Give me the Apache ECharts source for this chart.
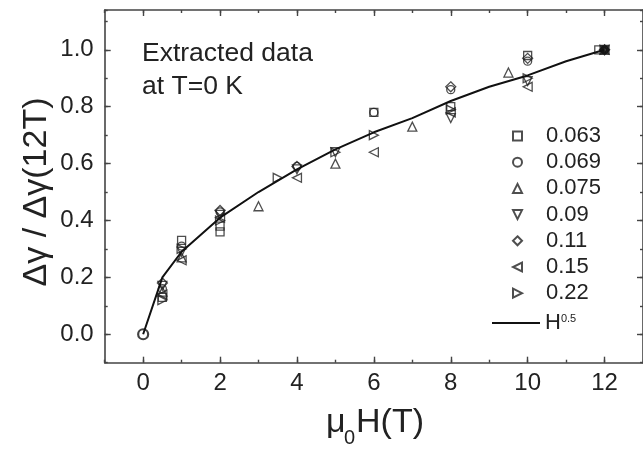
<!DOCTYPE html>
<html>
<head>
<meta charset="utf-8">
<script src="https://cdn.jsdelivr.net/npm/echarts@6/dist/echarts.min.js"></script>
<style>
  html, body { margin: 0; padding: 0; background: #fff; }
  #chart { width: 643px; height: 451px; }
</style>
</head>
<body>
<div id="chart"></div>
<script>
// Normalised field dependence of the extracted quantity, one set per doping level
const legendNames = ['0.063', '0.069', '0.075', '0.09', '0.11', '0.15', '0.22'];

const h063 = [0.5, 1, 2, 2, 6, 8, 10, 11.85];
const y063 = [0.13, 0.33, 0.38, 0.36, 0.78, 0.80, 0.98, 1.0];

const h069 = [0, 0.5, 1, 2, 4, 6, 8, 10, 12];
const y069 = [0, 0.16, 0.31, 0.43, 0.59, 0.78, 0.86, 0.96, 1.0];

const h075 = [0.5, 1, 3, 5, 7, 9.5, 12];
const y075 = [0.15, 0.27, 0.45, 0.60, 0.73, 0.92, 1.0];

const h09 = [0.5, 1, 2, 4, 5, 8, 10, 12];
const y09 = [0.17, 0.29, 0.42, 0.58, 0.64, 0.76, 0.89, 1.0];

const h011 = [0.5, 2, 4, 8, 10, 12];
const y011 = [0.18, 0.435, 0.59, 0.87, 0.97, 1.0];

const h015 = [0.5, 1, 2, 4, 6, 8, 10, 12];
const y015 = [0.14, 0.26, 0.41, 0.55, 0.64, 0.78, 0.87, 1.0];

const h022 = [0.5, 1, 2, 3.5, 5, 6, 8, 10, 12];
const y022 = [0.12, 0.30, 0.40, 0.55, 0.64, 0.70, 0.79, 0.90, 1.0];

// Square-root field dependence drawn as the reference curve
const fitName = 'H0.5';
const hFit = [0, 0.5, 1, 2, 3, 4, 5, 6, 7, 8, 9, 10, 11, 12];
const yFit = [0, 0.20, 0.29, 0.41, 0.50, 0.58, 0.65, 0.71, 0.76, 0.82, 0.87, 0.91, 0.96, 1.0];

const xMajor = [0, 2, 4, 6, 8, 10, 12];
const yMajor = [0, 0.2, 0.4, 0.6, 0.8, 1.0];

const ink = '#222';
const axisColor = '#444';
const fontFamily = '"Liberation Sans", Arial, Helvetica, sans-serif';

// the zero-field point is common to every set, so it is drawn with a heavier outline
const pair = (xs, ys) => xs.map((x, i) => (x === 0 && ys[i] === 0)
  ? { value: [x, ys[i]], symbolSize: 10, itemStyle: { borderWidth: 2.2, borderColor: '#111' } }
  : [x, ys[i]]);

// triangle outlines pointing down / left / right
const triDown = 'path://M0,0 L10,0 L5,10 Z';
const triLeft = 'path://M10,0 L10,10 L0,5 Z';
const triRight = 'path://M0,0 L0,10 L10,5 Z';

const markerDefs = [
  { h: h063, y: y063, symbol: 'rect', size: 8 },
  { h: h069, y: y069, symbol: 'circle', size: 8 },
  { h: h075, y: y075, symbol: 'triangle', size: 9 },
  { h: h09, y: y09, symbol: triDown, size: 9 },
  { h: h011, y: y011, symbol: 'diamond', size: 10 },
  { h: h015, y: y015, symbol: triLeft, size: 9 },
  { h: h022, y: y022, symbol: triRight, size: 9 }
];

const scatterSeries = markerDefs.map((d, i) => ({
  name: legendNames[i],
  type: 'scatter',
  xAxisIndex: 0,
  yAxisIndex: 0,
  symbol: d.symbol,
  symbolSize: d.size,
  itemStyle: { color: 'rgba(255,255,255,0)', borderColor: ink, borderWidth: 1.3 },
  data: pair(d.h, d.y),
  z: 3
}));

const fitSeries = {
  name: fitName,
  type: 'line',
  xAxisIndex: 0,
  yAxisIndex: 0,
  symbol: 'none',
  lineStyle: { color: '#111', width: 2 },
  itemStyle: { color: '#111' },
  data: hFit.map((x, i) => [x, yFit[i]]),
  z: 4
};

// solid end point of the curve at the normalisation field
const fitEnd = {
  name: 'end',
  type: 'scatter',
  xAxisIndex: 0,
  yAxisIndex: 0,
  symbol: 'circle',
  symbolSize: 9,
  itemStyle: { color: '#111' },
  data: [[hFit[hFit.length - 1], yFit[yFit.length - 1]]],
  z: 5
};

const axisLine = { show: true, onZero: false, lineStyle: { color: axisColor, width: 1.6 } };
const noLine = { show: false, onZero: false };
const minorTick = { show: true, inside: true, length: 3, lineStyle: { color: axisColor, width: 1.4 } };
const majorTick = (vals) => ({ show: true, inside: true, length: 6, customValues: vals, lineStyle: { color: axisColor, width: 1.4 } });

const xRange = { type: 'value', min: -1, max: 13, splitLine: { show: false } };
const yRange = { type: 'value', min: -0.1, max: 1.14, splitLine: { show: false } };

const chart = echarts.init(document.getElementById('chart'), null, { renderer: 'canvas' });

chart.setOption({
  animation: false,
  backgroundColor: '#fff',
  grid: { left: 104.7, right: -3.5, top: 10, bottom: 88.3, containLabel: false },
  xAxis: [
    Object.assign({}, xRange, { position: 'bottom', interval: 1, axisLine, axisTick: minorTick, axisLabel: { show: false } }),
    Object.assign({}, xRange, { position: 'bottom', axisLine: noLine, axisTick: majorTick(xMajor),
      axisLabel: { show: true, customValues: xMajor, margin: 9, fontSize: 24, color: ink, fontFamily } }),
    Object.assign({}, xRange, { position: 'top', interval: 1, axisLine, axisTick: minorTick, axisLabel: { show: false } }),
    Object.assign({}, xRange, { position: 'top', axisLine: noLine, axisTick: majorTick(xMajor), axisLabel: { show: false } })
  ],
  yAxis: [
    Object.assign({}, yRange, { position: 'left', interval: 0.1, axisLine, axisTick: minorTick, axisLabel: { show: false } }),
    Object.assign({}, yRange, { position: 'left', axisLine: noLine, axisTick: majorTick(yMajor),
      axisLabel: { show: true, customValues: yMajor, margin: 11, fontSize: 24, color: ink, fontFamily,
        formatter: (v) => v.toFixed(1) } }),
    Object.assign({}, yRange, { position: 'right', interval: 0.1, axisLine, axisTick: minorTick, axisLabel: { show: false } }),
    Object.assign({}, yRange, { position: 'right', axisLine: noLine, axisTick: majorTick(yMajor), axisLabel: { show: false } })
  ],
  legend: [
    {
      show: true,
      orient: 'vertical',
      left: 512,
      top: 125,
      padding: 0,
      itemWidth: 9,
      itemHeight: 9,
      itemGap: 4.2,
      data: legendNames,
      textStyle: {
        color: ink,
        fontFamily,
        fontSize: 22,
        lineHeight: 20,
        rich: { t: { fontSize: 22, color: ink, fontFamily, lineHeight: 20, padding: [0, 0, 0, 19] } }
      },
      formatter: (name) => '{t|' + name + '}'
    },
    {
      show: true,
      orient: 'vertical',
      left: 492,
      top: 312,
      padding: 0,
      itemWidth: 48,
      itemHeight: 2,
      icon: 'rect',
      data: [fitName],
      textStyle: {
        color: ink,
        fontFamily,
        fontSize: 22,
        lineHeight: 20,
        rich: {
          h: { fontSize: 22, color: ink, fontFamily, lineHeight: 20 },
          p: { fontSize: 11, color: ink, fontFamily, verticalAlign: 'top', lineHeight: 12 }
        }
      },
      formatter: () => '{h|H}{p|0.5}'
    }
  ],
  graphic: [
    { type: 'text', left: 142, top: 40, style: { text: 'Extracted data', fontSize: 26.5, fill: ink, fontFamily } },
    { type: 'text', left: 142, top: 73, style: { text: 'at T=0 K', fontSize: 26.5, fill: ink, fontFamily } },
    { type: 'text', x: 37, y: 192, rotation: Math.PI / 2,
      style: { text: 'Δγ / Δγ(12T)', fontSize: 34, fill: ink, fontFamily, align: 'center', verticalAlign: 'middle' } },
    { type: 'text', x: 326, y: 423, style: { text: 'μ', fontSize: 34, fill: ink, fontFamily, verticalAlign: 'middle' } },
    { type: 'text', x: 344, y: 438, style: { text: '0', fontSize: 20, fill: ink, fontFamily, verticalAlign: 'middle' } },
    { type: 'text', x: 356, y: 423, style: { text: 'H(T)', fontSize: 34, fill: ink, fontFamily, verticalAlign: 'middle' } }
  ],
  series: scatterSeries.concat([fitSeries, fitEnd])
});
</script>
</body>
</html>
